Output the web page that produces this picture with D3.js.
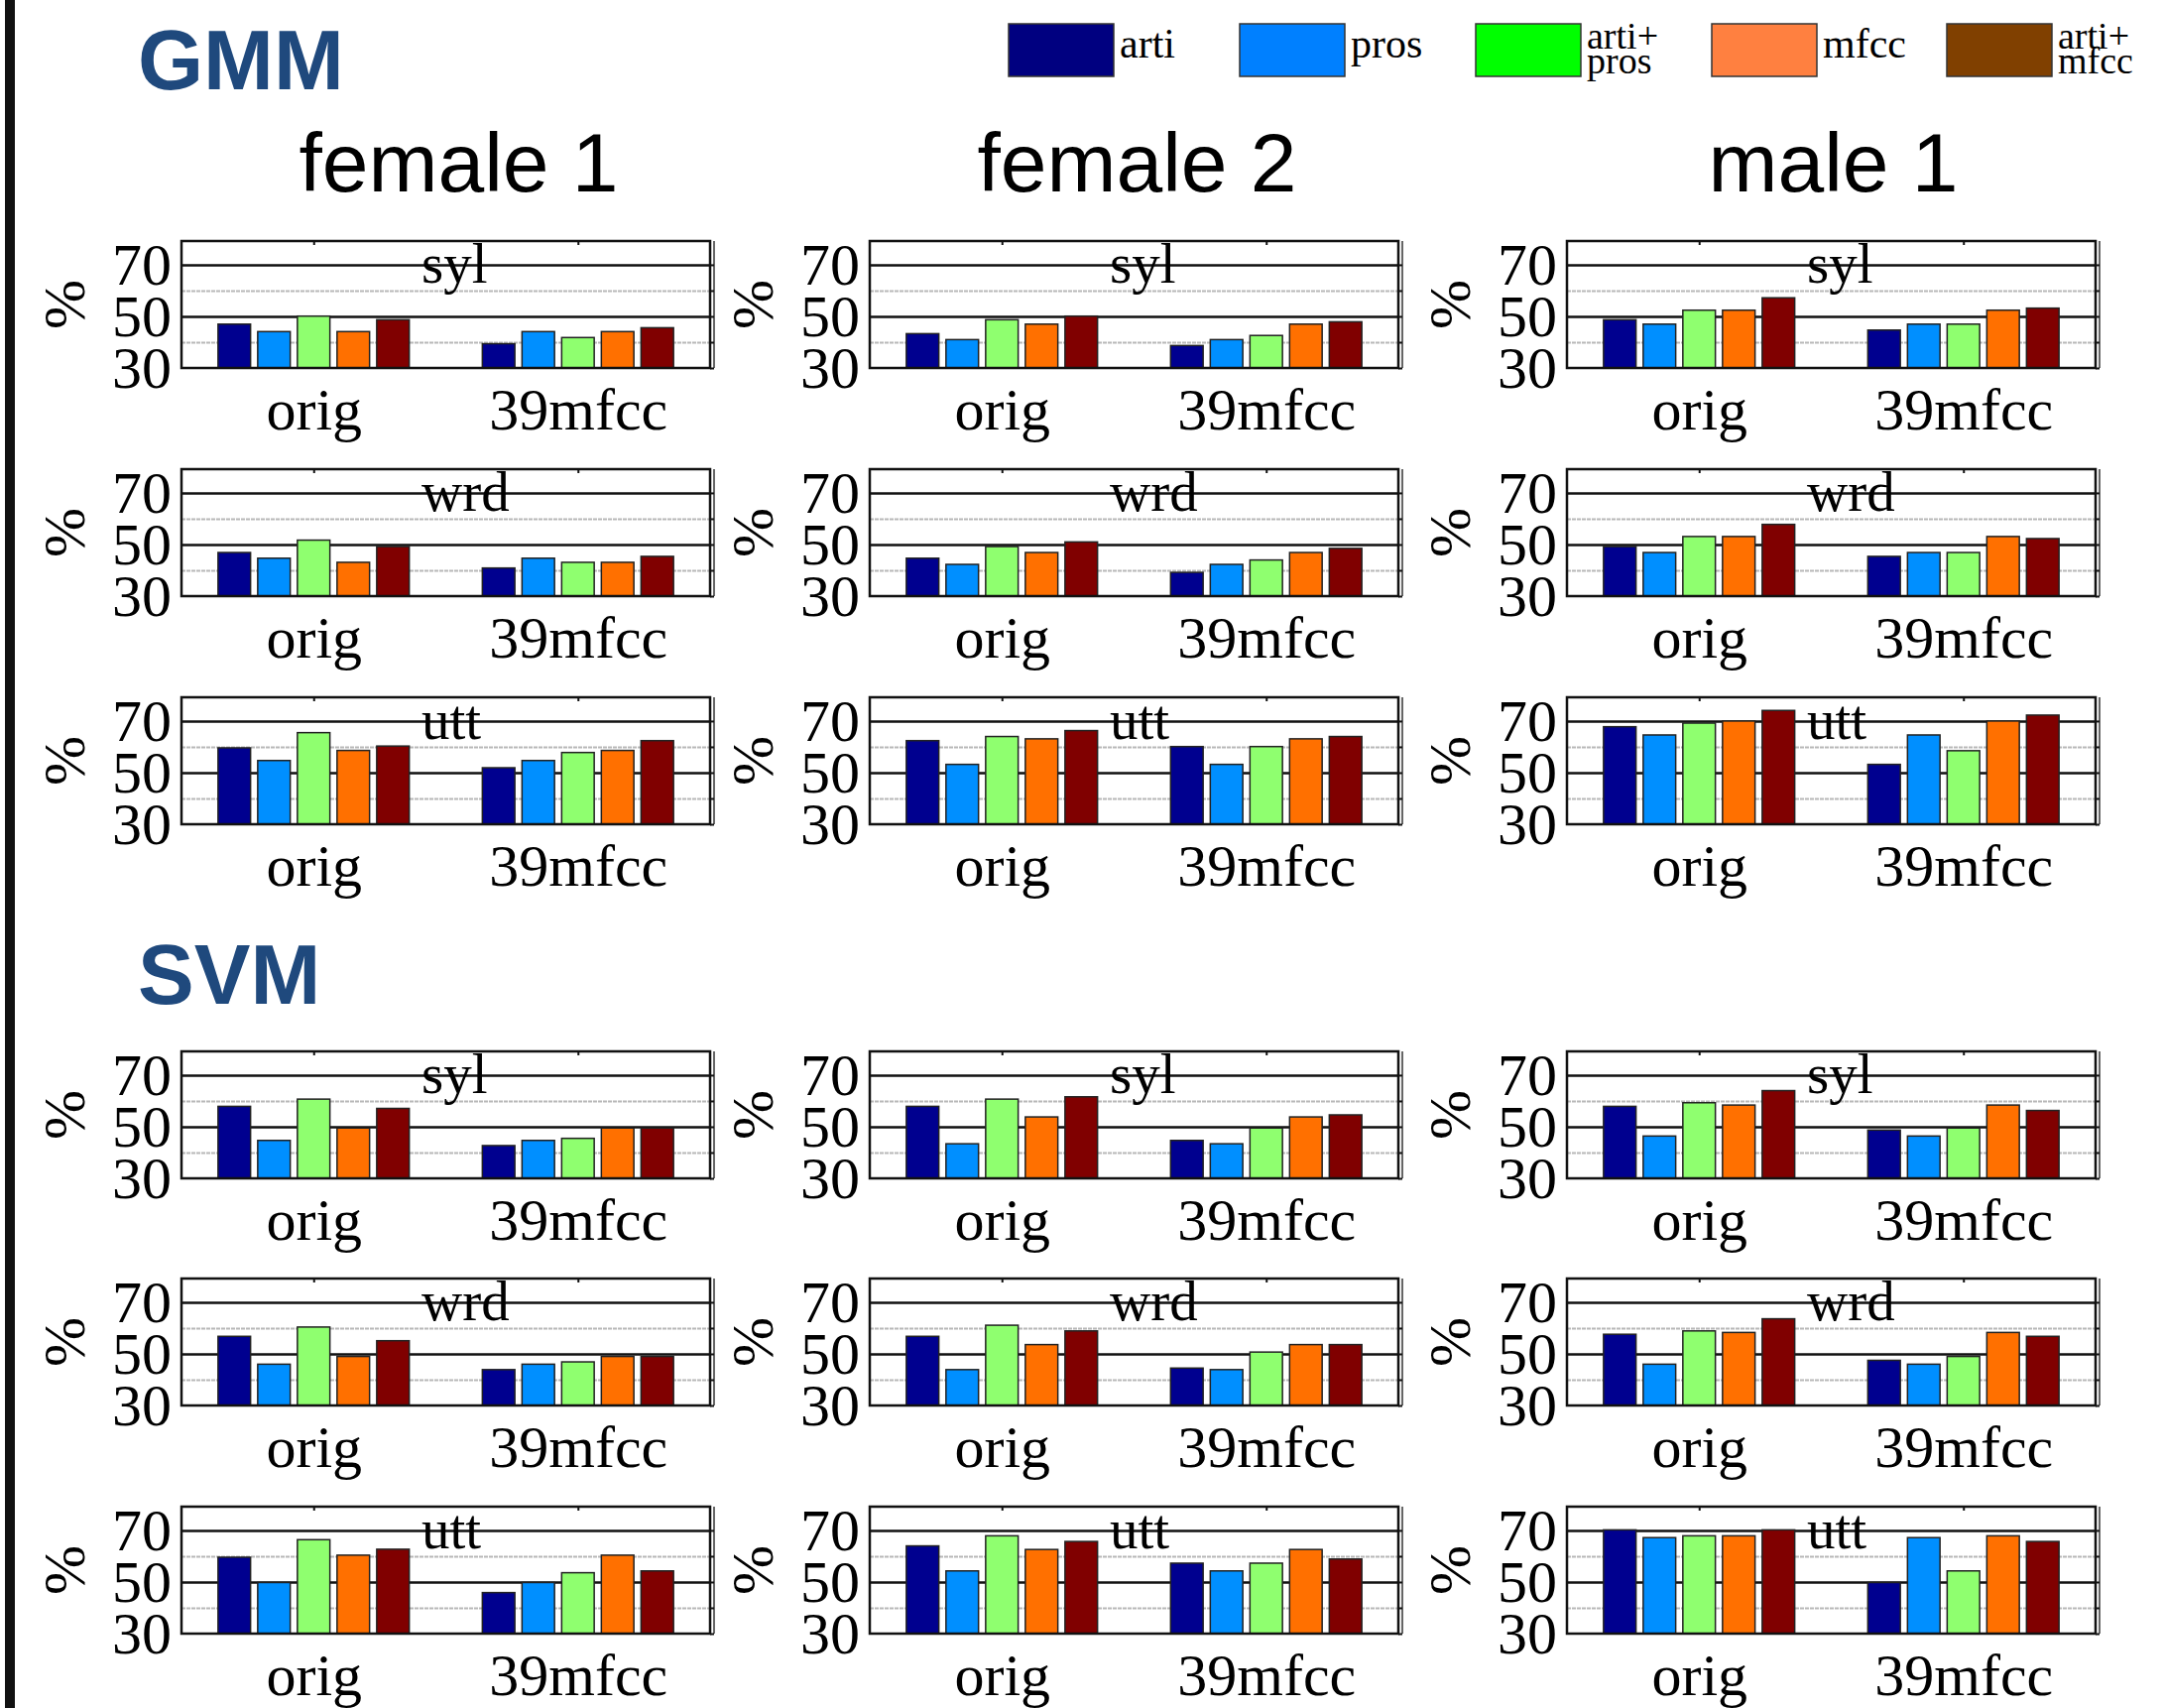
<!DOCTYPE html>
<html>
<head>
<meta charset="utf-8">
<script src="https://cdn.jsdelivr.net/npm/d3@7"></script>
<style>
  body { margin: 0; background: #fff; }
  svg { display: block; }
</style>
</head>
<body>
<svg id="chart" width="2181" height="1722"></svg>
<script>
// categories
const features = ["arti", "pros", "arti+pros", "mfcc", "arti+mfcc"];
const groups = ["orig", "39mfcc"];
const speakers = ["female 1", "female 2", "male 1"];
const levels = ["syl", "wrd", "utt"];
const classifiers = ["GMM", "SVM"];
const yTicks = [30, 50, 70];

// accuracies (%), [orig, 39mfcc] x features
const gmm_f1_syl = [[47.0, 44.1, 50.1, 44.1, 48.7], [39.4, 44.1, 41.8, 44.1, 45.6]];
const gmm_f1_wrd = [[46.9, 44.7, 51.7, 43.1, 49.2], [40.9, 44.7, 43.1, 43.1, 45.4]];
const gmm_f1_utt = [[59.6, 54.7, 65.5, 58.6, 60.3], [51.9, 54.7, 57.8, 58.6, 62.4]];
const gmm_f2_syl = [[43.3, 41.0, 48.7, 47.0, 50.1], [38.7, 41.0, 42.6, 47.0, 47.9]];
const gmm_f2_wrd = [[44.7, 42.3, 49.2, 46.9, 51.0], [39.2, 42.3, 44.0, 46.9, 48.5]];
const gmm_f2_utt = [[62.4, 53.2, 64.0, 63.1, 66.3], [60.1, 53.2, 60.1, 63.1, 64.0]];
const gmm_m1_syl = [[48.7, 47.0, 52.4, 52.4, 57.2], [44.7, 47.0, 47.0, 52.4, 53.2]];
const gmm_m1_wrd = [[49.2, 46.9, 53.1, 53.1, 57.8], [45.4, 46.9, 46.9, 53.1, 52.3]];
const gmm_m1_utt = [[67.8, 64.6, 69.2, 70.0, 74.1], [53.2, 64.6, 58.5, 70.0, 72.3]];

const svm_f1_syl = [[57.9, 44.7, 60.7, 49.5, 57.1], [42.7, 44.7, 45.5, 49.5, 49.5]];
const svm_f1_wrd = [[56.8, 46.0, 60.4, 49.0, 55.1], [43.9, 46.0, 46.9, 49.0, 49.0]];
const svm_f1_utt = [[59.6, 49.8, 66.4, 60.4, 62.7], [45.9, 49.8, 53.6, 60.4, 54.3]];
const svm_f2_syl = [[57.9, 43.4, 60.7, 53.8, 61.6], [44.7, 43.4, 49.5, 53.8, 54.6]];
const svm_f2_wrd = [[56.8, 43.9, 61.1, 53.6, 58.9], [44.5, 43.9, 50.7, 53.6, 53.6]];
const svm_f2_utt = [[64.0, 54.3, 67.9, 62.6, 65.7], [57.3, 54.3, 57.3, 62.6, 58.9]];
const svm_m1_syl = [[57.9, 46.4, 59.3, 58.4, 64.0], [48.7, 46.4, 49.5, 58.4, 56.3]];
const svm_m1_wrd = [[57.6, 46.0, 58.9, 58.3, 63.6], [47.5, 46.0, 49.0, 58.3, 56.8]];
const svm_m1_utt = [[70.2, 67.2, 67.9, 67.9, 70.2], [49.8, 67.2, 54.3, 67.9, 65.7]];

// lookup table: classifier -> speaker -> level
const table = {
  GMM: [[gmm_f1_syl, gmm_f1_wrd, gmm_f1_utt], [gmm_f2_syl, gmm_f2_wrd, gmm_f2_utt], [gmm_m1_syl, gmm_m1_wrd, gmm_m1_utt]],
  SVM: [[svm_f1_syl, svm_f1_wrd, svm_f1_utt], [svm_f2_syl, svm_f2_wrd, svm_f2_utt], [svm_m1_syl, svm_m1_wrd, svm_m1_utt]]
};

const barColors = ["#00008f", "#008fff", "#8fff6f", "#ff7000", "#800000"];
const legendColors = ["#000080", "#0080ff", "#00ff00", "#ff8040", "#804000"];

const serif = "'Liberation Serif', 'Times New Roman', serif";
const sans = "'Liberation Sans', Arial, sans-serif";

const svg = d3.select("#chart");

// layout
const colLeft = [183, 877, 1580];
const titleShift = [13, 3, 2];
const plotW = 533, plotH = 128;
const rowTop = { GMM: [243, 473, 703], SVM: [1060, 1289, 1519] };
const headerY = { GMM: 90, SVM: 1012 };

// black bar on the left edge
svg.append("rect").attr("x", 5).attr("y", 0).attr("width", 10).attr("height", 1722).attr("fill", "#111");

// scales shared by all panels
const x = d3.scaleLinear().domain([0.5, 2.5]).range([0, plotW]);
const xBar = d3.scaleBand().domain(features).range([-100, 100]).paddingInner(0.18).paddingOuter(0.09);
const y = d3.scaleLinear().domain([30, 79.2]).range([plotH, 0]);

function panel(g, data, level) {
  // grid lines
  g.append("g").call(d3.axisLeft(y).tickValues([40, 60]).tickSize(-plotW).tickFormat(""))
    .call(a => a.select(".domain").remove())
    .selectAll("line").attr("stroke", "#b8b8b8").attr("stroke-width", 2).attr("stroke-dasharray", "4,1");
  g.append("g").call(d3.axisLeft(y).tickValues([50, 70]).tickSize(-plotW).tickFormat(""))
    .call(a => a.select(".domain").remove())
    .selectAll("line").attr("stroke", "#111").attr("stroke-width", 2.5);

  // bars
  const grp = g.selectAll(".grp").data(data).enter().append("g")
    .attr("transform", (d, i) => "translate(" + x(i + 1) + ",0)");
  grp.selectAll("rect").data(d => d).enter().append("rect")
    .attr("x", (d, i) => xBar(features[i]))
    .attr("width", xBar.bandwidth())
    .attr("y", d => y(d))
    .attr("height", d => y(30) - y(d))
    .attr("fill", (d, i) => barColors[i])
    .attr("stroke", "#222").attr("stroke-width", 1.5);

  // frame
  g.append("rect").attr("width", plotW).attr("height", plotH)
    .attr("fill", "none").attr("stroke", "#111").attr("stroke-width", 2.5);
  // right axis with small ticks
  g.append("g").attr("transform", "translate(" + (plotW + 4) + ",0)")
    .call(d3.axisLeft(y).tickValues([30, 40, 50, 60, 70]).tickSize(4).tickFormat(""))
    .call(a => a.select(".domain").attr("stroke", "#333").attr("stroke-width", 1.5).attr("d", "M0,0V" + plotH))
    .selectAll("line").attr("stroke", "#111").attr("stroke-width", 2);
  // top ticks at the groups
  g.append("g").call(d3.axisBottom(x).tickValues([1, 2]).tickSize(4).tickFormat(""))
    .call(a => a.select(".domain").remove())
    .selectAll("line").attr("stroke", "#111").attr("stroke-width", 2);

  // y tick labels
  g.append("g").call(d3.axisLeft(y).tickValues(yTicks).tickSize(0).tickPadding(10))
    .call(a => a.select(".domain").remove())
    .selectAll("text").attr("font-family", serif).attr("font-size", 60).attr("fill", "#000");

  // x labels
  g.append("g").attr("transform", "translate(0," + plotH + ")")
    .call(d3.axisBottom(x).tickValues([1, 2]).tickSize(0).tickFormat(d => groups[d - 1]))
    .call(a => a.select(".domain").remove())
    .selectAll("text").attr("font-family", serif).attr("font-size", 60).attr("fill", "#000")
    .attr("dy", null).attr("y", 62);

  // level title
  g.append("text").attr("x", 242).attr("y", 42).text(level)
    .attr("font-family", serif).attr("font-size", 57).attr("fill", "#000");

  // % label
  g.append("text").attr("transform", "translate(-98," + (plotH / 2) + ") rotate(-90)")
    .attr("text-anchor", "middle").text("%")
    .attr("font-family", serif).attr("font-size", 60).attr("fill", "#000");
}

classifiers.forEach(c => {
  svg.append("text").attr("x", 139).attr("y", headerY[c]).text(c)
    .attr("font-family", sans).attr("font-weight", "bold").attr("font-size", 85).attr("fill", "#1f497d");
  speakers.forEach((s, si) => {
    levels.forEach((lv, li) => {
      const g = svg.append("g").attr("transform", "translate(" + colLeft[si] + "," + rowTop[c][li] + ")");
      panel(g, table[c][si][li], lv);
    });
  });
});

// speaker titles
speakers.forEach((s, si) => {
  svg.append("text").attr("x", colLeft[si] + plotW / 2 + titleShift[si]).attr("y", 193)
    .attr("text-anchor", "middle").text(s)
    .attr("font-family", sans).attr("font-size", 84).attr("fill", "#000");
});

// legend
const legX = [1017, 1250, 1488, 1726, 1963];
const leg = svg.append("g").selectAll("g").data(features).enter().append("g")
  .attr("transform", (d, i) => "translate(" + legX[i] + ",24)");
leg.append("rect").attr("width", 106).attr("height", 53)
  .attr("fill", (d, i) => legendColors[i]).attr("stroke", "#333").attr("stroke-width", 1.5);
leg.each(function(d) {
  const parts = d.split("+");
  const t = d3.select(this).append("text").attr("font-family", serif).attr("fill", "#000");
  if (parts.length === 1) {
    t.attr("font-size", 42).attr("x", 112).attr("y", 34).text(d);
  } else {
    t.attr("font-size", 38);
    t.append("tspan").attr("x", 112).attr("y", 25).text(parts[0] + "+");
    t.append("tspan").attr("x", 112).attr("y", 50).text(parts[1]);
  }
});
</script>
</body>
</html>
